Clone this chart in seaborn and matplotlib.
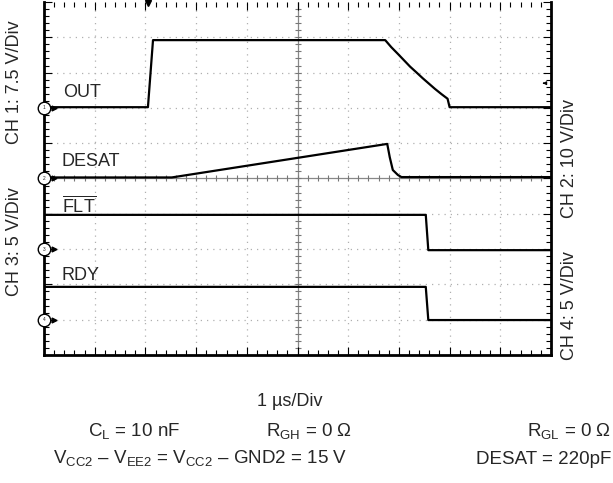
import numpy as np
import pandas as pd
import seaborn as sns
import matplotlib.pyplot as plt

# scope traces, in divisions (x: 0..10, y: 0..10 from bottom)
out_x = [0, 2.05, 2.15, 6.73, 6.85, 6.98, 7.1, 7.22, 7.35, 7.47, 7.59, 7.71, 7.84, 7.96, 8.0, 10]
out_y = [7.02, 7.02, 8.92, 8.92, 8.72, 8.53, 8.35, 8.17, 8.0, 7.84, 7.69, 7.54, 7.39, 7.26, 7.02, 7.02]

desat_x = [0, 2.52, 6.77, 6.82, 6.88, 6.98, 7.05, 10]
desat_y = [5.03, 5.03, 5.98, 5.6, 5.24, 5.1, 5.04, 5.04]

flt_x = [0, 7.53, 7.58, 10]
flt_y = [3.97, 3.97, 2.97, 2.97]

rdy_x = [0, 7.53, 7.58, 10]
rdy_y = [1.93, 1.93, 0.99, 0.99]

trace_names = ['OUT', 'DESAT', r'$\overline{\mathregular{FLT}}$', 'RDY']
trace_label_pos = [(0.37, 7.31), (0.35, 5.35), (0.35, 4.05), (0.35, 2.12)]
ch_ground = [7, 5, 3, 1]

sns.set_theme(style='white')
plt.rcParams['font.family'] = ['Liberation Sans', 'DejaVu Sans']
plt.rcParams['mathtext.fontset'] = 'custom'
plt.rcParams['mathtext.rm'] = 'Liberation Sans'

W, H = 613, 483
fig = plt.figure(figsize=(W / 100, H / 100), dpi=100)
ax = fig.add_axes([44 / W, 1 - 355 / H, 507 / W, 353 / H])
ax.set_xlim(0, 10)
ax.set_ylim(0, 10)

# dotted grid + solid centre axes
for g in range(1, 10):
    if g == 5:
        continue
    ax.axvline(g, color='#b0b0b0', lw=0.9, ls=(0, (1, 4)), zorder=0)
    ax.axhline(g, color='#b0b0b0', lw=0.9, ls=(0, (1, 4)), zorder=0)
ax.axvline(5, color='#888888', lw=0.9, zorder=0)
ax.axhline(5, color='#888888', lw=0.9, zorder=0)
minor = np.arange(0.2, 10, 0.2)
ax.plot(minor, np.full_like(minor, 5), ls='none', marker='|', ms=5, color='#777777', mew=0.8, zorder=0)
ax.plot(np.full_like(minor, 5), minor, ls='none', marker='_', ms=5, color='#777777', mew=0.8, zorder=0)

traces = [(out_x, out_y), (desat_x, desat_y), (flt_x, flt_y), (rdy_x, rdy_y)]
for (tx, ty) in traces:
    df = pd.DataFrame({'t': tx, 'v': ty})
    sns.lineplot(data=df, x='t', y='v', sort=False, estimator=None, color='black', lw=1.6, ax=ax)

for name, (lx, ly) in zip(trace_names, trace_label_pos):
    ax.text(lx, ly, name, fontsize=13, ha='left', va='baseline')

# channel ground markers
for i, g in enumerate(ch_ground):
    ax.plot(0, g, marker='o', ms=9, mfc='white', mec='black', mew=1.0, clip_on=False, zorder=5)
    ax.text(0, g, str(i + 1), fontsize=3.5, ha='center', va='center', zorder=6, clip_on=False)
    ax.plot(0.19, g, marker='>', ms=3.5, color='black', clip_on=False, zorder=5)

# trigger markers
ax.plot(2.05, 9.97, marker='v', ms=5, color='black', clip_on=False, zorder=5)
ax.annotate('', xy=(9.78, 7.7), xytext=(9.92, 7.7),
            arrowprops=dict(arrowstyle='-|>', color='black', lw=0.8, mutation_scale=5))

ax.set_xlabel('')
ax.set_ylabel('')
ax.set_xticks(np.arange(0, 11, 1))
ax.set_yticks(np.arange(0, 11, 1))
ax.set_xticks(minor, minor=True)
ax.set_yticks(minor, minor=True)
ax.tick_params(which='both', direction='in', top=True, bottom=True, left=True, right=True,
               labelbottom=False, labelleft=False, color='black', width=0.8)
ax.tick_params(which='major', length=6)
ax.tick_params(which='minor', length=3.5)
for s in ['left', 'bottom', 'right']:
    ax.spines[s].set_linewidth(2)
    ax.spines[s].set_color('black')
ax.spines['top'].set_visible(False)


def px(x, y):
    return x / W, 1 - y / H


fs = 13
fig.text(*px(15, 82), 'CH 1: 7.5 V/Div', rotation=90, ha='center', va='center', fontsize=fs)
fig.text(*px(15, 242), 'CH 3: 5 V/Div', rotation=90, ha='center', va='center', fontsize=fs)
fig.text(*px(569, 158), 'CH 2: 10 V/Div', rotation=90, ha='center', va='center', fontsize=fs)
fig.text(*px(569, 306), 'CH 4: 5 V/Div', rotation=90, ha='center', va='center', fontsize=fs)

fs2 = 13.5
fig.text(*px(290, 401), '1 µs/Div', ha='center', va='center', fontsize=fs)
fig.text(*px(88, 432), r'C$_\mathregular{L}$ = 10 nF', ha='left', va='center', fontsize=fs2)
fig.text(*px(266, 432), r'R$_\mathregular{GH}$ = 0 Ω', ha='left', va='center', fontsize=fs2)
fig.text(*px(527, 432), r'R$_\mathregular{GL}$ = 0 Ω', ha='left', va='center', fontsize=fs2)
fig.text(*px(53, 459), r'V$_\mathregular{CC2}$ – V$_\mathregular{EE2}$ = V$_\mathregular{CC2}$ – GND2 = 15 V',
         ha='left', va='center', fontsize=fs2)
fig.text(*px(476, 459), 'DESAT = 220pF', ha='left', va='center', fontsize=fs2)

fig.savefig('out.png', dpi=100)
